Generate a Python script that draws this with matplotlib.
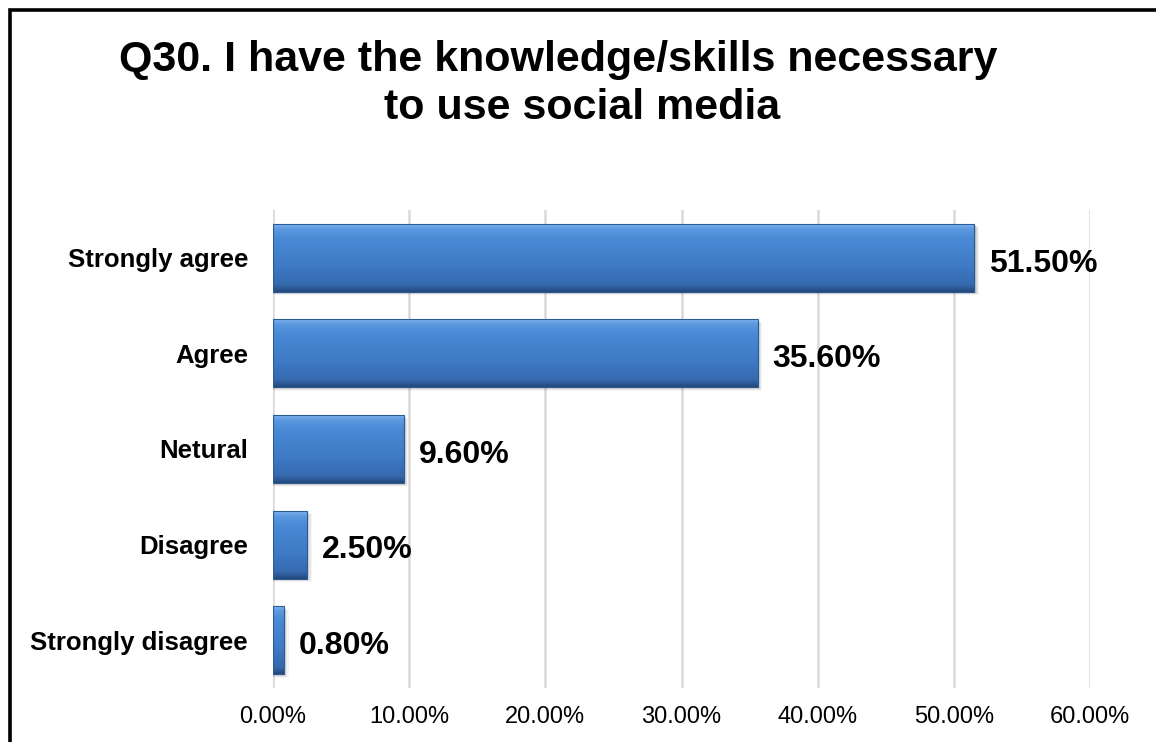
import numpy as np
import matplotlib
matplotlib.use("Agg")
import matplotlib.pyplot as plt
from matplotlib.patches import Rectangle
from matplotlib.colors import LinearSegmentedColormap

plt.rcParams['font.family'] = ['Liberation Sans', 'DejaVu Sans']

# survey answers, top to bottom
categories = ["Strongly agree", "Agree", "Netural", "Disagree", "Strongly disagree"]
shares = [51.5, 35.6, 9.6, 2.5, 0.8]
x_ticks = [0, 10, 20, 30, 40, 50, 60]
title_lines = ["Q30. I have the knowledge/skills necessary", "to use social media"]

W, H = 1156, 742
fig = plt.figure(figsize=(W / 100, H / 100), dpi=100)
ax = fig.add_axes([273 / W, (H - 688) / H, (1090 - 273) / W, (688 - 210) / H])

bar_h = 0.71
# vertical shading for the bevelled bars (row 0 = top edge)
bar_cmap = LinearSegmentedColormap.from_list(
    "bevel", [(0.0, "#80b8f0"), (0.06, "#5e9be2"), (0.2, "#4a8ad6"),
              (0.6, "#3f7bc6"), (0.9, "#3569ae"), (1.0, "#24497a")])
grad = np.linspace(0, 1, 200).reshape(-1, 1)

for i, v in enumerate(shares):
    top = i - bar_h / 2
    # soft drop shadow
    for k, a in enumerate([0.10, 0.08, 0.06, 0.04]):
        off = 0.012 + k * 0.008
        ax.add_patch(Rectangle((0, top + off), v + 0.1 + k * 0.08, bar_h,
                               facecolor="#000000", alpha=a, edgecolor="none", zorder=2))
    ax.imshow(grad, cmap=bar_cmap, aspect="auto", origin="lower",
              extent=[0, v, top, top + bar_h], zorder=3, interpolation="bilinear")
    ax.add_patch(Rectangle((0, top), v, bar_h, facecolor="none",
                           edgecolor="#2b5a95", linewidth=0.8, zorder=4))
    ax.text(v + 1.1, i + 0.06, f"{v:.2f}%", ha="left", va="center",
            fontsize=23, fontweight="bold", color="black", zorder=5)

ax.set_xlim(0, 60)
ax.set_ylim(len(categories) - 0.5, -0.5)
ax.set_xticks(x_ticks)
ax.set_xticklabels([f"{t:.2f}%" for t in x_ticks], fontsize=17)
ax.set_yticks(range(len(categories)))
ax.set_yticklabels(categories, fontsize=18.5, fontweight="bold")
ax.tick_params(axis="x", length=0, pad=13)
ax.tick_params(axis="y", length=0, pad=18)
ax.grid(axis="x", color="#d9d9d9", linewidth=1.8, zorder=0)
ax.set_axisbelow(True)
for s in ax.spines.values():
    s.set_visible(False)

# two-line title, each line centred on its own
fig.text(558 / W, (H - 60) / H, title_lines[0], ha="center", va="center",
         fontsize=31, fontweight="bold")
fig.text(582 / W, (H - 108) / H, title_lines[1], ha="center", va="center",
         fontsize=31, fontweight="bold")

# outer frame (left and top edges visible)
fig.add_artist(Rectangle((9.5 / W, -0.1), 1.2, (H - 9.5) / H + 0.1,
                         transform=fig.transFigure, facecolor="none",
                         edgecolor="black", linewidth=2.6))

fig.savefig("out.png", dpi=100)
